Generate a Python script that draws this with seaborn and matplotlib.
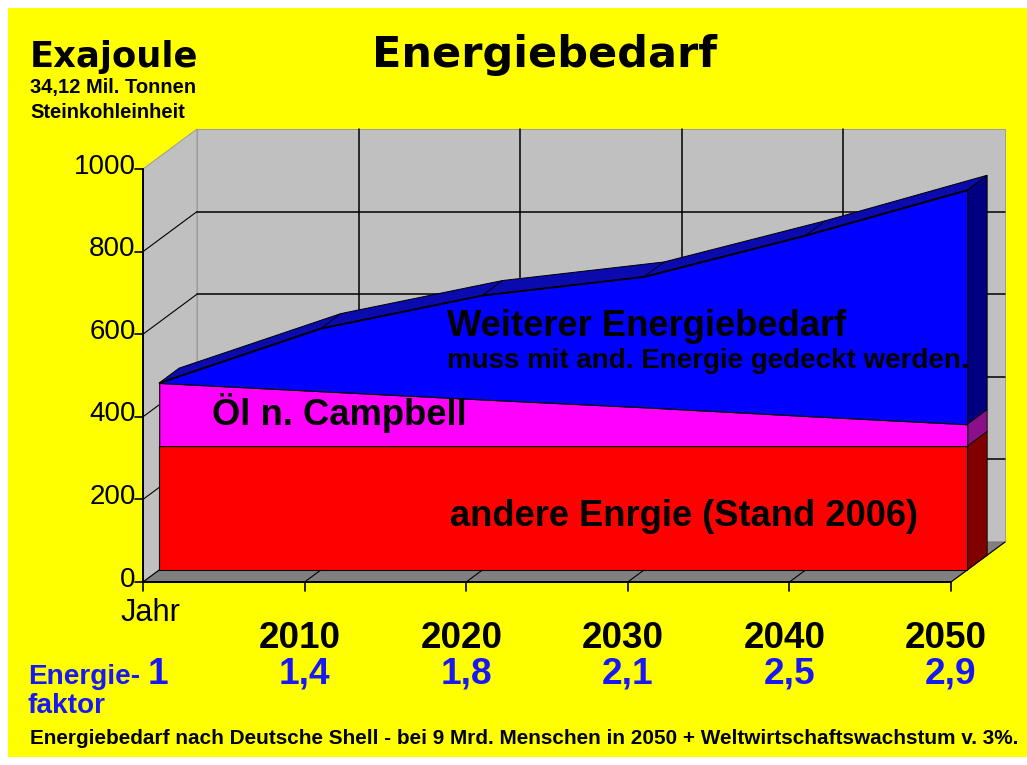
import numpy as np
import pandas as pd
import matplotlib
matplotlib.use("Agg")
import matplotlib.pyplot as plt
from matplotlib import font_manager
from matplotlib.patches import Polygon, Rectangle
import seaborn as sns

# ---------------- data ----------------
years = [2000, 2010, 2020, 2030, 2040, 2050]
year_labels = ["Jahr", "2010", "2020", "2030", "2040", "2050"]
andere = [300, 300, 300, 300, 300, 300]          # andere Energie (Stand 2006)
oel = [153, 133, 113, 94, 73, 53]                # Öl n. Campbell
weiterer = [0, 152, 252, 316, 437, 567]          # weiterer Energiebedarf
faktor = ["1", "1,4", "1,8", "2,1", "2,5", "2,9"]
yticks = [0, 200, 400, 600, 800, 1000]

# ---------------- style ----------------
sns.set_theme(style="white")
names = {f.name for f in font_manager.fontManager.ttflist}
NARROW = "Liberation Sans Narrow" if "Liberation Sans Narrow" in names else "Liberation Sans"
plt.rcParams["font.family"] = ["Liberation Sans", "DejaVu Sans"]

W, H = 1027, 765
fig = plt.figure(figsize=(W / 100, H / 100), dpi=100, facecolor="white")
fig.patches.append(Rectangle((8 / W, 8 / H), 1 - 8 / W, 1 - 16 / H,
                             transform=fig.transFigure, facecolor="#FFFF00",
                             edgecolor="none", zorder=-10))

ax = fig.add_axes([0, 0, 1, 1])
ax.set_zorder(1)
ax.set_facecolor("none")
ax.set_axis_off()

# pixel geometry of front plane
X0PX, XSTEP, Y0PX, YSCALE = 143, 161.6, 582, 0.413
ax.set_xlim(-X0PX / XSTEP, (W - X0PX) / XSTEP)
ax.set_ylim((Y0PX - H) / YSCALE, Y0PX / YSCALE)

DX = 54 / XSTEP      # depth offset (data units) for full depth
DY = 40 / YSCALE


def P(x, v, d):
    return (x + d * DX, v + d * DY)


def vpx(ypx):
    return (Y0PX - ypx) / YSCALE


def tx(xpx, ypx):
    return (xpx - X0PX) / XSTEP, vpx(ypx)


n = len(years)
xs = np.arange(n)
XMAX = n - 1
VMAX = yticks[-1]
wall = "#C0C0C0"
floor = "#808080"

# walls
ax.add_patch(Polygon([P(0, 0, 1), P(XMAX, 0, 1), P(XMAX, VMAX, 1), P(0, VMAX, 1)],
                     closed=True, facecolor=wall, edgecolor="#9a9a9a", lw=0.7, zorder=1))
ax.add_patch(Polygon([P(0, 0, 0), P(0, 0, 1), P(0, VMAX, 1), P(0, VMAX, 0)],
                     closed=True, facecolor=wall, edgecolor="#9a9a9a", lw=0.7, zorder=1))
ax.add_patch(Polygon([P(0, 0, 0), P(XMAX, 0, 0), P(XMAX, 0, 1), P(0, 0, 1)],
                     closed=True, facecolor=floor, edgecolor="#707070", lw=0.7, zorder=1))

# gridlines
for v in yticks[1:-1]:
    a, b = P(0, v, 1), P(XMAX, v, 1)
    ax.plot([a[0], b[0]], [a[1], b[1]], color="black", lw=1.1, zorder=2)
    a, b = P(0, v, 0), P(0, v, 1)
    ax.plot([a[0], b[0]], [a[1], b[1]], color="black", lw=0.8, zorder=2)
for i in xs[1:-1]:
    a, b = P(i, 0, 1), P(i, VMAX, 1)
    ax.plot([a[0], b[0]], [a[1], b[1]], color="black", lw=1.1, zorder=2)
for i in xs:
    a, b = P(i, 0, 0), P(i, 0, 1)
    ax.plot([a[0], b[0]], [a[1], b[1]], color="black", lw=0.8, zorder=2)

# axes lines and ticks
ax.plot([0, 0], [0, VMAX], color="black", lw=1.4, zorder=6)
ax.plot([0, XMAX], [0, 0], color="black", lw=1.4, zorder=6)
for v in yticks:
    ax.plot([-0.05, 0], [v, v], color="black", lw=1.2, zorder=6)
    ax.text(-0.045, v + 6, str(v), ha="right", va="center", fontsize=20,
            color="black", zorder=7)
for i in xs:
    ax.plot([i, i], [0, -22], color="black", lw=1.2, zorder=6)

# ---------------- 3D stacked area ----------------
DF, DB = 0.30, 0.67
b0 = np.zeros(n)
t0 = np.array(andere, dtype=float)
t1 = t0 + np.array(oel)
t2 = t1 + np.array(weiterer)
layers = [
    (b0, t0, "#FF0000", "#800000"),
    (t0, t1, "#FF00FF", "#8A108A"),
    (t1, t2, "#0000FF", "#000080"),
]

for k, (bot, top, col, side) in enumerate(layers):
    ax.add_patch(Polygon([P(XMAX, bot[-1], DF), P(XMAX, top[-1], DF),
                          P(XMAX, top[-1], DB), P(XMAX, bot[-1], DB)],
                         closed=True, facecolor=side, edgecolor="black", lw=0.6,
                         zorder=3 + k))
    if k == len(layers) - 1:
        front = [P(x, v, DF) for x, v in zip(xs, top)]
        back = [P(x, v, DB) for x, v in zip(xs, top)][::-1]
        ax.add_patch(Polygon(front + back, closed=True, facecolor="#0A0AAE",
                             edgecolor="black", lw=0.7, zorder=3 + k))
        for i in xs[1:-1]:
            a, b = P(i, top[i], DF), P(i, top[i], DB)
            ax.plot([a[0], b[0]], [a[1], b[1]], color="black", lw=0.6, zorder=3 + k)
    ax.fill_between(xs + DF * DX, bot + DF * DY, top + DF * DY, facecolor=col,
                    edgecolor="black", lw=0.8, zorder=3.5 + k)

df_tot = pd.DataFrame({"x": xs + DF * DX, "v": t2 + DF * DY})
sns.lineplot(data=df_tot, x="x", y="v", color="black", lw=0.9, ax=ax,
             legend=False, zorder=7)

# ---------------- texts ----------------
renderer = fig.canvas.get_renderer()


def fit(t, target_w):
    w = t.get_window_extent(renderer=renderer).width
    t.set_fontsize(t.get_fontsize() * target_w / w)
    return t.get_fontsize()


nf = [NARROW, "DejaVu Sans"]

t = ax.text(*tx(447, 326), "Weiterer Energiebedarf", ha="left", va="center",
            fontsize=30, family=nf, fontweight="bold", color="black", zorder=8)
fit(t, 400)
t = ax.text(*tx(447, 361), "muss mit and. Energie gedeckt werden.", ha="left",
            va="center", fontsize=22, family=nf, fontweight="bold", color="black", zorder=8)
fit(t, 520)
t = ax.text(*tx(212, 413), "Öl n. Campbell", ha="left", va="center",
            fontsize=30, family=nf, fontweight="bold", color="black", zorder=8)
fit(t, 255)
t = ax.text(*tx(450, 517), "andere Enrgie (Stand 2006)", ha="left", va="center",
            fontsize=30, family=nf, fontweight="bold", color="black", zorder=8)
fit(t, 468)

# x category labels
tj = ax.text(*tx(150, 613), year_labels[0], ha="center", va="center", fontsize=22,
             family=nf, color="black", zorder=8)
fit(tj, 60)
ys_ = []
for i, lab in enumerate(year_labels[1:], start=1):
    ys_.append(ax.text(i - 0.03, vpx(638), lab, ha="center", va="center",
                       fontsize=30, family=nf, fontweight="bold", color="black", zorder=8))
fs = fit(ys_[0], 82)
for t in ys_:
    t.set_fontsize(fs)

# Energiefaktor
blue = "#1818F4"
t = ax.text(*tx(28, 677), "Energie-", ha="left", va="center", fontsize=22,
            family=nf, fontweight="bold", color=blue, zorder=8)
fs_e = fit(t, 112)
ax.text(*tx(28, 706), "faktor", ha="left", va="center", fontsize=fs_e,
        family=nf, fontweight="bold", color=blue, zorder=8)
fts = []
for i, f in enumerate(faktor):
    xx = i + (0.09 if i == 0 else 0.0)
    fts.append(ax.text(xx, vpx(674), f, ha="center", va="center", fontsize=28,
                       family=nf, fontweight="bold", color=blue, zorder=8))
fs = fit(fts[1], 52)
for t in fts:
    t.set_fontsize(fs)

# title and unit
fig.text(545 / W, 1 - 55 / H, "Energiebedarf", ha="center", va="center",
         fontsize=31, fontweight="bold", family=["DejaVu Sans"], color="black")
fig.text(30 / W, 1 - 57 / H, "Exajoule", ha="left", va="center",
         fontsize=25.5, fontweight="bold", family=["DejaVu Sans"], color="black")
fig.text(30 / W, 1 - 88 / H, "34,12 Mil. Tonnen", ha="left", va="center",
         fontsize=14.5, fontweight="bold", color="black")
fig.text(30 / W, 1 - 113 / H, "Steinkohleinheit", ha="left", va="center",
         fontsize=14.5, fontweight="bold", color="black")

t = fig.text(30 / W, 1 - 738 / H,
             "Energiebedarf nach Deutsche Shell - bei 9 Mrd. Menschen in 2050 + Weltwirtschaftswachstum v. 3%.",
             ha="left", va="center", fontsize=16, fontweight="bold",
             family=nf, color="black")
fit(t, 988)

fig.savefig("out.png", dpi=100, facecolor="white")
